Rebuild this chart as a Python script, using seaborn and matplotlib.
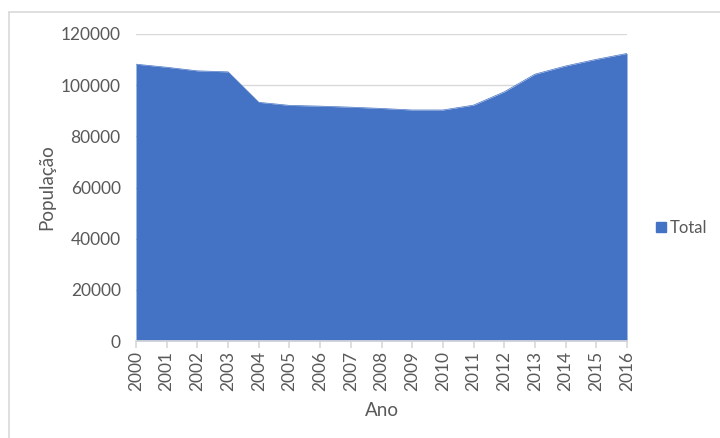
import matplotlib
matplotlib.use("Agg")
import matplotlib.pyplot as plt
import seaborn as sns
import pandas as pd
from matplotlib.lines import Line2D

years = list(range(2000, 2017))
total = [108200, 107000, 105600, 105200, 93300, 92100, 91800, 91400, 90900,
         90300, 90300, 92200, 97400, 104300, 107500, 110100, 112400]
y_ticks = [0, 20000, 40000, 60000, 80000, 100000, 120000]

df = pd.DataFrame({"Ano": years, "Total": total})

sns.set_theme(style="white")
plt.rcParams["font.family"] = ["Lato", "DejaVu Sans"]

fig = plt.figure(figsize=(7.2, 4.38), dpi=100)
ax = fig.add_axes([136 / 720, 1 - 341 / 438, (627 - 136) / 720, (341 - 34) / 438])

area_color = "#4472C4"
text_color = "#595959"

sns.lineplot(data=df, x="Ano", y="Total", ax=ax, color=area_color, linewidth=0.5)
ax.fill_between(df["Ano"], 0, df["Total"], color=area_color, linewidth=0, zorder=2)

ax.set_xlim(years[0], years[-1])
ax.set_ylim(0, 120000)
ax.set_yticks(y_ticks)
ax.set_yticklabels([str(v) for v in y_ticks], color=text_color, fontsize=12.5)
ax.set_xticks(years)
ax.set_xticklabels([str(y) for y in years], rotation=90, color=text_color, fontsize=12.5)

ax.yaxis.grid(True, color="#d9d9d9", linewidth=1)
ax.set_axisbelow(True)
for s in ["top", "right", "left"]:
    ax.spines[s].set_visible(False)
ax.spines["bottom"].set_color("#d9d9d9")
ax.tick_params(axis="x", length=5, color="#d9d9d9", bottom=True, pad=2)
ax.tick_params(axis="y", length=0, pad=11)

ax.set_xlabel("Ano", color=text_color, fontsize=13.5, labelpad=8)
ax.set_ylabel("População", color=text_color, fontsize=13.5, labelpad=4)

handle = Line2D([], [], marker="s", color="none", markerfacecolor=area_color,
                markeredgecolor=area_color, markersize=7)
fig.legend([handle], ["Total"], loc="center left", bbox_to_anchor=(653 / 720, 1 - 228 / 438),
           frameon=False, handletextpad=0.1, handlelength=0.9,
           borderpad=0, borderaxespad=0,
           prop={"size": 12}, labelcolor=text_color)

# chart border like the spreadsheet frame
fig.add_artist(Line2D([8.5 / 720, 1], [1 - 11.5 / 438, 1 - 11.5 / 438],
                      transform=fig.transFigure, color="#d9d9d9", linewidth=1.2))
fig.add_artist(Line2D([8.5 / 720, 8.5 / 720], [0, 1 - 11.5 / 438],
                      transform=fig.transFigure, color="#d9d9d9", linewidth=1.2))

fig.savefig("out.png", dpi=100)
